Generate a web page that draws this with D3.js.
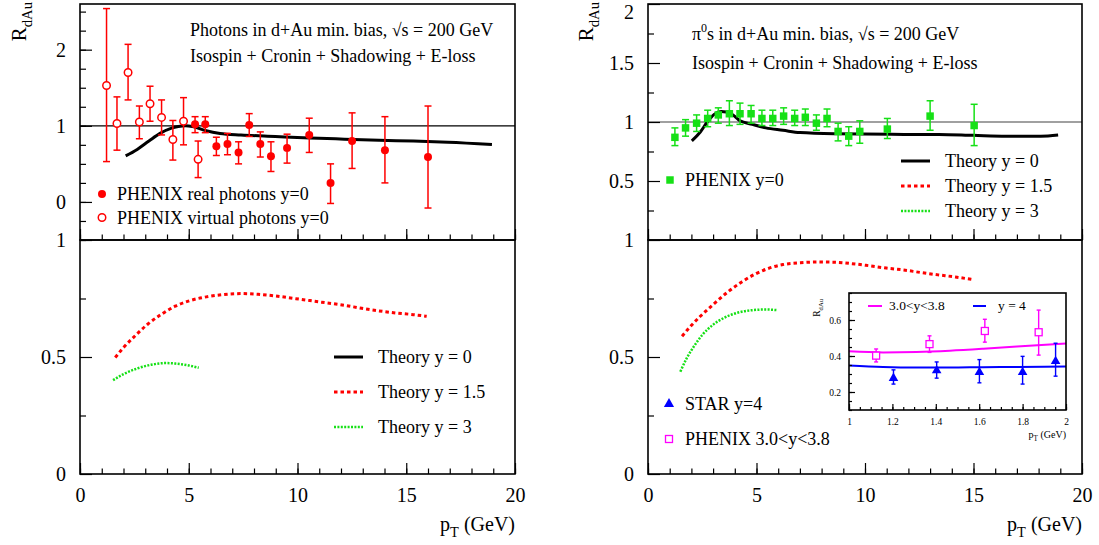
<!DOCTYPE html>
<html>
<head>
<meta charset="utf-8">
<script src="https://cdn.jsdelivr.net/npm/d3@7"></script>
<style>
  body { margin: 0; background: #fff; }
  svg text { font-family: "Liberation Serif", "Times New Roman", serif; }
</style>
</head>
<body>
<svg id="chart" width="1099" height="545"></svg>
<script>
// ---- data ----
// PHENIX real photons (top left)
var realPt = [5.29, 5.76, 6.27, 6.78, 7.29, 7.78, 8.29, 8.78, 9.52, 10.54, 11.52, 12.51, 14.02, 16.0];
var realR  = [1.02, 1.02, 0.73, 0.76, 0.65, 1.01, 0.76, 0.60, 0.71, 0.88, 0.25, 0.80, 0.68, 0.59];
var realHi = [1.12, 1.12, 0.85, 0.90, 0.79, 1.16, 0.92, 0.79, 0.89, 1.10, 0.50, 1.17, 1.12, 1.26];
var realLo = [0.91, 0.91, 0.61, 0.62, 0.50, 0.86, 0.59, 0.40, 0.51, 0.65, -0.02, 0.44, 0.25, -0.08];
// PHENIX virtual photons (top left)
var virtPt = [1.22, 1.70, 2.21, 2.73, 3.22, 3.75, 4.27, 4.76, 5.43];
var virtR  = [1.53, 1.03, 1.70, 1.05, 1.29, 1.11, 0.82, 1.06, 0.56];
var virtHi = [2.54, 1.38, 2.07, 1.26, 1.52, 1.34, 1.07, 1.37, 0.80];
var virtLo = [0.53, 0.68, 1.34, 0.83, 1.06, 0.88, 0.55, 0.75, 0.32];
// PHENIX pi0 y=0 (top right)
var pi0Pt = [1.24, 1.73, 2.24, 2.75, 3.24, 3.75, 4.24, 4.75, 5.25, 5.75, 6.25, 6.76, 7.25, 7.76, 8.25, 8.76, 9.25, 9.76, 11.03, 13.0, 15.03];
var pi0R  = [0.87, 0.95, 0.99, 1.03, 1.06, 1.07, 1.07, 1.07, 1.03, 1.03, 1.05, 1.03, 1.04, 0.99, 1.03, 0.92, 0.88, 0.92, 0.94, 1.05, 0.97];
var pi0Hi = [0.95, 1.02, 1.06, 1.10, 1.12, 1.18, 1.16, 1.14, 1.10, 1.10, 1.12, 1.10, 1.11, 1.06, 1.11, 0.99, 0.96, 1.01, 1.03, 1.18, 1.15];
var pi0Lo = [0.80, 0.88, 0.92, 0.96, 0.99, 0.97, 0.98, 0.99, 0.97, 0.97, 0.98, 0.97, 0.97, 0.93, 0.96, 0.84, 0.80, 0.82, 0.86, 0.93, 0.80];

// theory curves [pT, R]
var photonY0 = [[2.1, 0.605], [2.63, 0.69], [3.17, 0.80], [3.68, 0.90], [4.21, 0.97], [4.52, 0.99], [4.86, 1.0], [5.17, 0.99],
  [5.81, 0.934], [6.44, 0.90], [7.40, 0.88], [8.98, 0.86], [10.57, 0.84], [12.16, 0.825], [13.75, 0.81], [15.33, 0.80], [16.92, 0.785], [18.94, 0.755]];
var photonY15 = [[1.62, 0.498], [2.0, 0.54], [2.56, 0.593], [3.11, 0.64], [3.75, 0.683], [4.38, 0.717], [5.02, 0.74], [5.81, 0.757],
  [6.6, 0.767], [7.4, 0.771], [8.19, 0.768], [8.98, 0.761], [9.78, 0.751], [10.57, 0.741], [11.37, 0.731], [12.16, 0.721],
  [12.95, 0.708], [13.75, 0.697], [14.54, 0.688], [15.33, 0.681], [15.94, 0.674]];
var photonY3 = [[1.52, 0.401], [2.0, 0.427], [2.63, 0.451], [3.27, 0.467], [3.9, 0.474], [4.38, 0.472], [4.94, 0.465], [5.46, 0.454]];

var pionY0 = [[2.02, 0.84], [2.41, 0.915], [2.73, 1.0], [3.05, 1.065], [3.37, 1.09], [3.84, 1.07], [4.24, 1.01], [4.8, 0.98],
  [5.43, 0.95], [6.22, 0.93], [7.0, 0.91], [8.6, 0.90], [11.8, 0.895], [13.4, 0.895], [15.0, 0.887], [16.5, 0.88], [18.1, 0.88], [18.9, 0.89]];
var pionY15 = [[1.57, 0.589], [1.94, 0.629], [2.41, 0.674], [3.05, 0.728], [3.68, 0.778], [4.32, 0.821], [4.95, 0.855], [5.59, 0.88],
  [6.22, 0.895], [7.02, 0.903], [7.81, 0.906], [8.6, 0.905], [9.4, 0.899], [10.19, 0.89], [10.98, 0.88], [11.78, 0.872],
  [12.57, 0.861], [13.37, 0.851], [14.16, 0.842], [14.95, 0.831]];
var pionY3 = [[1.49, 0.437], [1.78, 0.494], [2.1, 0.543], [2.49, 0.593], [2.97, 0.636], [3.52, 0.668], [4.16, 0.69], [4.79, 0.70], [5.43, 0.703], [5.98, 0.70]];

// inset: forward rapidity
var phenixFwdPt = [1.125, 1.371, 1.626, 1.874];
var phenixFwdR  = [0.402, 0.466, 0.539, 0.532];
var phenixFwdHi = [0.439, 0.512, 0.604, 0.655];
var phenixFwdLo = [0.367, 0.420, 0.477, 0.405];
var starPt = [1.205, 1.404, 1.601, 1.80, 1.952];
var starR  = [0.277, 0.319, 0.310, 0.310, 0.371];
var starHi = [0.323, 0.367, 0.380, 0.398, 0.471];
var starLo = [0.244, 0.277, 0.251, 0.244, 0.288];
var insetY34 = [[1.0, 0.426], [1.157, 0.42], [1.311, 0.422], [1.465, 0.429], [1.619, 0.44], [1.774, 0.453], [2.0, 0.47]];
var insetY4  = [[1.0, 0.347], [1.157, 0.339], [1.311, 0.336], [1.465, 0.336], [1.619, 0.338], [1.774, 0.339], [2.0, 0.341]];

var xTicks = [0, 5, 10, 15, 20];

// ---- layout ----
var svg = d3.select('#chart');
var RED = '#ff0000', GREEN = '#16e016', MAG = '#ff00ff', BLUE = '#0000ff';

var xL = d3.scaleLinear().domain([0, 20]).range([80, 515]);
var xR = d3.scaleLinear().domain([0, 20]).range([648, 1082]);
var yTL = d3.scaleLinear().domain([-0.5, 2.6]).range([240, 4]);
var yTR = d3.scaleLinear().domain([0, 2]).range([240, 4]);
var yB = d3.scaleLinear().domain([0, 1]).range([474, 240]);
var xI = d3.scaleLinear().domain([1, 2]).range([849, 1066]);
var yI = d3.scaleLinear().domain([0.1, 0.75]).range([410, 293]);

function fmt(d) { return d3.format('')(+d.toFixed(2)); }

function styleAxis(g, size) {
  g.select('.domain').remove();
  g.attr('font-family', '"Liberation Serif", "Times New Roman", serif').attr('font-size', size);
  g.selectAll('line').attr('stroke', '#000').attr('stroke-width', 1.2);
}

function yAxis(x, y, major, minor, labels, len, size, pad) {
  svg.append('g').attr('transform', 'translate(' + x.range()[0] + ',0)')
    .call(d3.axisLeft(y).tickValues(minor).tickSize(-len / 2).tickFormat(''))
    .call(function(g) { styleAxis(g, size); });
  return svg.append('g').attr('transform', 'translate(' + x.range()[0] + ',0)')
    .call(d3.axisLeft(y).tickValues(major).tickSize(-len).tickPadding(pad)
      .tickFormat(function(d) { return labels ? fmt(d) : ''; }))
    .call(function(g) { styleAxis(g, size); });
}

function xAxis(x, y, major, minor, labels, len, size, pad) {
  var y0 = y.range()[0];
  svg.append('g').attr('transform', 'translate(0,' + y0 + ')')
    .call(d3.axisBottom(x).tickValues(minor).tickSize(-len / 2).tickFormat(''))
    .call(function(g) { styleAxis(g, size); });
  svg.append('g').attr('transform', 'translate(0,' + y0 + ')')
    .call(d3.axisBottom(x).tickValues(major).tickSize(-len).tickPadding(pad)
      .tickFormat(function(d) { return labels ? fmt(d) : ''; }))
    .call(function(g) { styleAxis(g, size); });
}

function frame(x, y, sw) {
  svg.append('rect')
    .attr('x', x.range()[0]).attr('y', y.range()[1])
    .attr('width', x.range()[1] - x.range()[0])
    .attr('height', y.range()[0] - y.range()[1])
    .attr('fill', 'none').attr('stroke', '#000').attr('stroke-width', sw);
}

function curve(x, y, pts, color, width, dash) {
  var line = d3.line().x(function(d) { return x(d[0]); }).y(function(d) { return y(d[1]); }).curve(d3.curveMonotoneX);
  svg.append('path').datum(pts).attr('d', line)
    .attr('fill', 'none').attr('stroke', color).attr('stroke-width', width)
    .attr('stroke-dasharray', dash || null);
}

function errorBars(x, y, pt, hi, lo, color, cap, sw) {
  var g = svg.append('g').attr('stroke', color).attr('stroke-width', sw);
  pt.forEach(function(p, i) {
    g.append('line').attr('x1', x(p)).attr('x2', x(p)).attr('y1', y(hi[i])).attr('y2', y(lo[i]));
    [hi[i], lo[i]].forEach(function(v) {
      g.append('line').attr('x1', x(p) - cap).attr('x2', x(p) + cap).attr('y1', y(v)).attr('y2', y(v));
    });
  });
}

function markers(x, y, pt, r, type, size, fill, stroke) {
  svg.append('g').selectAll('path').data(pt).enter().append('path')
    .attr('transform', function(d, i) { return 'translate(' + x(d) + ',' + y(r[i]) + ')'; })
    .attr('d', d3.symbol().type(type).size(size))
    .attr('fill', fill).attr('stroke', stroke || 'none').attr('stroke-width', 1.5);
}

function text(x, y, str, size, anchor) {
  return svg.append('text').attr('x', x).attr('y', y).attr('font-size', size)
    .attr('text-anchor', anchor || 'start').text(str);
}

function yTitle(xb, ytop, size) {
  var t = svg.append('text').attr('transform', 'translate(' + xb + ',' + ytop + ') rotate(-90)')
    .attr('text-anchor', 'end').attr('font-size', size);
  t.append('tspan').text('R');
  t.append('tspan').attr('font-size', size * 0.7).attr('dy', size * 0.3).text('dAu');
}

function xTitle(xr, yb, size) {
  var t = svg.append('text').attr('x', xr).attr('y', yb).attr('text-anchor', 'end').attr('font-size', size);
  t.append('tspan').text('p');
  t.append('tspan').attr('font-size', size * 0.72).attr('dy', size * 0.3).text('T');
  t.append('tspan').attr('dy', -size * 0.3).text(' (GeV)');
}

function legendLine(x1, x2, y, color, width, dash) {
  svg.append('line').attr('x1', x1).attr('x2', x2).attr('y1', y).attr('y2', y)
    .attr('stroke', color).attr('stroke-width', width).attr('stroke-dasharray', dash || null);
}

var minorX = d3.range(0, 21, 1);
var DASH = '3.5,3', DOT = '2,1.4';

// ================= LEFT: photons =================
// top panel
svg.append('line').attr('x1', xL(0)).attr('x2', xL(20)).attr('y1', yTL(1)).attr('y2', yTL(1))
  .attr('stroke', '#000').attr('stroke-width', 1.3);
curve(xL, yTL, photonY0, '#000', 3);
errorBars(xL, yTL, virtPt, virtHi, virtLo, RED, 3.5, 1.5);
errorBars(xL, yTL, realPt, realHi, realLo, RED, 3.5, 1.5);
markers(xL, yTL, realPt, realR, d3.symbolCircle, 50, RED);
markers(xL, yTL, virtPt, virtR, d3.symbolCircle, 44, '#fff', RED);
yAxis(xL, yTL, [0, 1, 2], d3.range(-0.5, 2.6, 0.25), true, 12, 20, 14);
xAxis(xL, yTL, xTicks, minorX, false, 11, 20, 14);
frame(xL, yTL, 1.6);

text(190, 36, 'Photons in d+Au min. bias, \u221As = 200 GeV', 18);
text(190, 62, 'Isospin + Cronin + Shadowing + E-loss', 18);
markers(function() { return 102; }, function() { return 194; }, [0], [0], d3.symbolCircle, 50, RED);
text(117, 200, 'PHENIX real photons y=0', 18);
markers(function() { return 102; }, function() { return 217.5; }, [0], [0], d3.symbolCircle, 44, '#fff', RED);
text(117, 224, 'PHENIX virtual photons y=0', 18);
yTitle(26, 2, 21);

// bottom panel
curve(xL, yB, photonY15, RED, 3, DASH);
curve(xL, yB, photonY3, GREEN, 2.5, DOT);
yAxis(xL, yB, [0, 0.5, 1], [0.25, 0.75], true, 12, 20, 14);
xAxis(xL, yB, xTicks, minorX, true, 11, 20, 14);
frame(xL, yB, 1.6);
legendLine(334, 363, 357, '#000', 3);
text(378, 363, 'Theory y = 0', 18);
legendLine(334, 363, 392, RED, 3, DASH);
text(378, 398, 'Theory y = 1.5', 18);
legendLine(334, 363, 427, GREEN, 2.5, DOT);
text(378, 433, 'Theory y = 3', 18);
xTitle(515, 531, 20);

// ================= RIGHT: pions =================
svg.append('line').attr('x1', xR(0)).attr('x2', xR(20)).attr('y1', yTR(1)).attr('y2', yTR(1))
  .attr('stroke', '#808080').attr('stroke-width', 1.6);
curve(xR, yTR, pionY0, '#000', 3);
errorBars(xR, yTR, pi0Pt, pi0Hi, pi0Lo, GREEN, 3.5, 1.5);
markers(xR, yTR, pi0Pt, pi0R, d3.symbolSquare, 56, GREEN);
var trAxis = yAxis(xR, yTR, [0.5, 1, 1.5, 2], [0.25, 0.75, 1.25, 1.75], true, 12, 20, 14);
// the top label sits on the frame edge; nudge it so it stays inside the page
trAxis.selectAll('.tick text').filter(function(d) { return d === 2; }).attr('dy', '0.72em');
xAxis(xR, yTR, xTicks, minorX, false, 11, 20, 14);
frame(xR, yTR, 1.6);

var t1 = svg.append('text').attr('x', 692).attr('y', 40).attr('font-size', 18);
t1.append('tspan').text('\u03C0');
t1.append('tspan').attr('font-size', 12).attr('dy', -8).text('0');
t1.append('tspan').attr('dy', 8).text('s in d+Au min. bias, \u221As = 200 GeV');
text(692, 69, 'Isospin + Cronin + Shadowing + E-loss', 18);
markers(function() { return 670; }, function() { return 180; }, [0], [0], d3.symbolSquare, 56, GREEN);
text(685, 186, 'PHENIX y=0', 18);
legendLine(901, 930, 161, '#000', 3);
text(945, 167, 'Theory y = 0', 18);
legendLine(901, 930, 186, RED, 3, DASH);
text(945, 192, 'Theory y = 1.5', 18);
legendLine(901, 930, 211, GREEN, 2.5, DOT);
text(945, 217, 'Theory y = 3', 18);
yTitle(593, 2, 21);

// bottom panel
curve(xR, yB, pionY15, RED, 3, DASH);
curve(xR, yB, pionY3, GREEN, 2.5, DOT);
yAxis(xR, yB, [0, 0.5, 1], [0.25, 0.75], true, 12, 20, 14);
xAxis(xR, yB, xTicks, minorX, true, 11, 20, 14);
frame(xR, yB, 1.6);
markers(function() { return 669; }, function() { return 404; }, [0], [0], d3.symbolTriangle, 45, BLUE);
text(685, 410, 'STAR y=4', 18);
svg.append('rect').attr('x', 665.5).attr('y', 435.5).attr('width', 7).attr('height', 7)
  .attr('fill', 'none').attr('stroke', MAG).attr('stroke-width', 1.3);
text(685, 445, 'PHENIX 3.0<y<3.8', 18);
xTitle(1082, 531, 20);

// ---- inset ----
svg.append('rect').attr('x', xI(1)).attr('y', yI(0.75)).attr('width', xI(2) - xI(1)).attr('height', yI(0.1) - yI(0.75))
  .attr('fill', '#fff');
curve(xI, yI, insetY34, MAG, 2);
curve(xI, yI, insetY4, BLUE, 2);
errorBars(xI, yI, phenixFwdPt, phenixFwdHi, phenixFwdLo, MAG, 2, 1.4);
errorBars(xI, yI, starPt, starHi, starLo, BLUE, 2, 1.4);
svg.append('g').selectAll('rect').data(phenixFwdPt).enter().append('rect')
  .attr('x', function(d) { return xI(d) - 3.5; })
  .attr('y', function(d, i) { return yI(phenixFwdR[i]) - 3.5; })
  .attr('width', 7).attr('height', 7)
  .attr('fill', '#fff').attr('stroke', MAG).attr('stroke-width', 1.3);
markers(xI, yI, starPt, starR, d3.symbolTriangle, 40, BLUE);
yAxis(xI, yI, [0.2, 0.4, 0.6], d3.range(0.1, 0.76, 0.05), true, 6, 9.5, 8);
xAxis(xI, yI, [1, 1.2, 1.4, 1.6, 1.8, 2], d3.range(1, 2.001, 0.05), true, 6, 9.5, 8);
frame(xI, yI, 1.6);
legendLine(868, 882, 306, MAG, 2);
text(889, 310, '3.0<y<3.8', 13.5);
legendLine(973, 986, 306, BLUE, 2);
text(998, 310, 'y = 4', 13.5);
yTitle(820, 299, 9.5);
xTitle(1066, 438, 10);
</script>
</body>
</html>
